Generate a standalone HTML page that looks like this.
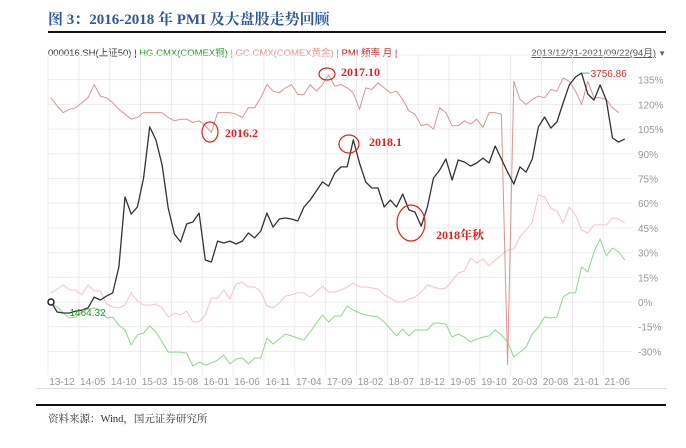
<!DOCTYPE html>
<html><head><meta charset="utf-8"><style>
body{margin:0;background:#fff;width:686px;height:443px;overflow:hidden;font-family:"Liberation Sans","Noto Sans CJK SC",sans-serif}
</style></head><body>
<svg width="686" height="443" viewBox="0 0 686 443" xmlns="http://www.w3.org/2000/svg">
<text x="48" y="24" font-family="'Liberation Serif','Noto Serif CJK SC',serif" font-weight="bold" font-size="15" fill="#2f5897">图 3：2016-2018 年 PMI 及大盘股走势回顾</text>
<rect x="48" y="31" width="618" height="2" fill="#111"/>
<g font-size="9.5">
<text x="48" y="56"><tspan fill="#333">000016.SH(上证50) | </tspan><tspan fill="#2a9a2a">HG.CMX(COMEX铜)</tspan><tspan fill="#999"> | </tspan><tspan fill="#e89090">GC.CMX(COMEX黄金)</tspan><tspan fill="#999"> | </tspan><tspan fill="#c02020">PMI 频率 月 |</tspan></text>
<text x="656" y="56" text-anchor="end" fill="#555" text-decoration="underline">2013/12/31-2021/09/22(94月)</text>
<text x="666" y="56" text-anchor="end" fill="#666" font-size="8">▼</text>
</g>
<g id="grid"></g>
<g id="series"></g>
<g id="annot" font-family="'Liberation Serif','Noto Serif CJK SC',serif" font-weight="bold" font-size="12" fill="#e02020">
<ellipse cx="210" cy="132" rx="8" ry="10" fill="none" stroke="#e02020" stroke-width="1.2"/>
<text x="225" y="137">2016.2</text>
<ellipse cx="327" cy="74" rx="8" ry="6" fill="none" stroke="#e02020" stroke-width="1.2"/>
<text x="341" y="76">2017.10</text>
<ellipse cx="349" cy="144" rx="10" ry="9" fill="none" stroke="#e02020" stroke-width="1.2"/>
<text x="369" y="146">2018.1</text>
<ellipse cx="411" cy="223" rx="14" ry="18" fill="none" stroke="#e02020" stroke-width="1.2"/>
<text x="436" y="239">2018年秋</text>
</g>
<rect x="36" y="404" width="630" height="2" fill="#111"/>
<text x="48" y="422" font-family="'Liberation Serif','Noto Serif CJK SC',serif" font-size="10.5" fill="#333">资料来源：Wind，国元证券研究所</text>
</svg>
<script>
const months = ["13-12","14-05","14-10","15-03","15-08","16-01","16-06","16-11","17-04","17-09","18-02","18-07","18-12","19-05","19-10","20-03","20-08","21-01","21-06"];
const yTicks = [135,120,105,90,75,60,45,30,15,0,-15,-30];
const sse50 = [0,-6.1,-6.7,-6.7,-5.5,-4.9,-3.6,3.0,1.2,3.6,5.5,21.3,63.8,53.4,57.7,75.3,106.3,98.4,83.2,57.1,41.3,36.4,47.4,48.6,54.0,25.5,24.3,37.0,35.8,37.0,35.2,37.0,41.9,38.9,43.1,54.0,45.5,50.4,51.0,50.4,49.2,57.7,61.9,67.4,72.9,70.4,78.3,82.0,82.0,98.4,84.4,72.9,69.2,69.2,57.7,61.9,57.7,65.6,55.9,54.6,46.1,57.7,75.3,80.1,86.8,74.1,86.2,85.0,82.6,84.4,87.4,84.4,94.7,86.8,78.9,71.6,82.0,78.9,86.8,106.3,112.3,105.6,109.3,120.8,131.8,136.6,139.0,126.3,122.6,131.8,122.6,99.6,97.1,99.0];
const copper = [-0.6,-3,-6.7,-9.7,-9.1,-6.1,-4.3,-3.6,-4.9,-9.7,-9.1,-14,-17,-26.1,-20,-18.8,-14.6,-18.2,-24.3,-30.4,-30.4,-30.4,-31,-38.9,-36.4,-38.3,-37,-35.2,-32.2,-37.6,-34.6,-34,-37.6,-34,-34,-21.9,-25.5,-22.5,-19.4,-20.6,-21.9,-23.1,-18.2,-12.8,-7.9,-12.1,-8.5,-8.5,-2.4,-4.9,-6.7,-7.9,-8.5,-9.1,-12.1,-16.4,-20.6,-16.4,-20.6,-17,-17,-17,-12.8,-12.8,-13.4,-21.3,-19.4,-21.3,-24.3,-22.5,-21.3,-20.6,-17,-20,-24.3,-33.4,-30.4,-27.3,-19.4,-15.2,-9.1,-9.7,-9.1,3,5.5,5.5,21.3,18.2,30.4,38.3,27.9,32.8,30.4,25.5];
const gold = [5.5,7.9,10.3,7.3,7.3,4.3,10.3,6.7,6.7,-1.2,-3,-3.6,-1.8,5.5,0.6,-1.8,-1.8,-1.2,-3.6,-9.1,-6.7,-7.9,-5.5,-12.1,-12.1,-7.9,2.4,2.4,7.3,1.8,10.9,12.1,9.1,9.1,6.1,-2.4,-3.6,-0.6,3.6,4.3,5.5,5.5,3,6.1,9.7,6.1,6.1,7.3,9.1,11.5,9.1,9.1,8.5,7.9,4.3,2.4,0,0,1.8,3,6.1,10.3,9.1,7.9,8.5,12.8,17.6,18.8,26.7,23.7,26.1,21.9,25.5,28.5,31.6,32.2,39.5,43.7,48.6,65,63.8,57.1,55.3,48,57.7,52.8,43.7,41.9,46.8,46.8,46.8,51,50.4,48];
const pmi = [124,119,115,117,118,121,124,132,125,124,121,117,114,111,112,115,115,115,115,112,110,111,111,109,110,107,103,115,115,115,114,112,118,118,124,132,128,127,130,132,126,126,132,128,132,138,131,132,130,127,117,130,129,133,130,127,128,123,116,114,107,108,105,118,115,107,107,110,108,111,106,115,115,114,-38,134,123,120,123,125,124,129,128,136,134,128,120,134,124,124,123,118,115];

const NS="http://www.w3.org/2000/svg";
const X0=51, DX=6.17, Y0=302, KY=1.647;
function xs(i){return X0+i*DX;}
function ys(v){return Y0-v*KY;}
function mk(tag,attrs,parent){const e=document.createElementNS(NS,tag);for(const k in attrs)e.setAttribute(k,attrs[k]);parent.appendChild(e);return e;}
const grid=document.getElementById('grid');
const series=document.getElementById('series');
[150].concat(yTicks).forEach(v=>{
  const l=mk('line',{x1:48,x2:632,y1:ys(v),y2:ys(v),stroke:'#ececec','stroke-width':1},grid);
  
  
});
yTicks.forEach(v=>{
  const t=mk('text',{x:638,y:ys(v)+4,'font-size':10,fill:'#999'},grid);
  t.textContent=v+'%';
  
  
});
months.forEach((m,k)=>{
  const x=xs(k*5);
  const l=mk('line',{x1:x-3,x2:x-3,y1:55,y2:375,stroke:'#ececec','stroke-width':1},grid);
  
  
  const t=mk('text',{x:x+11,y:385,'font-size':10,fill:'#999','text-anchor':'middle'},grid);
  t.textContent=m;
  
  
});
const ax=mk('line',{x1:36,x2:666,y1:388.5,y2:388.5,stroke:'#ddd','stroke-width':1},grid);


function poly(arr,color,w,name){
  const pts=arr.map((v,i)=>xs(i).toFixed(1)+','+ys(v).toFixed(1)).join(' ');
  const p=mk('polyline',{points:pts,fill:'none',stroke:color,'stroke-width':w,'stroke-linejoin':'round'},series);
  
  
}
poly(gold,'#f6c4c4',1,'gold-line');
poly(copper,'#8ed88e',1,'copper-line');
poly(pmi,'#dc9494',1,'pmi-line');
poly(sse50,'#333',1.3,'sse50-line');
const st=mk('circle',{cx:xs(0),cy:ys(sse50[0]),r:3,fill:'#fff',stroke:'#222','stroke-width':1.5},series);


const lo=mk('text',{x:xs(3),y:ys(sse50[0])+14,'font-size':10,fill:'#2a9a2a'},series);
lo.textContent='1464.32';


let mi=0;sse50.forEach((v,i)=>{if(v>sse50[mi])mi=i;});
const hl=mk('line',{x1:xs(mi),x2:xs(mi)+8,y1:ys(sse50[mi]),y2:ys(sse50[mi]),stroke:'#4aa3d8','stroke-width':1},series);


const hi=mk('text',{x:xs(mi)+9,y:ys(sse50[mi])+4,'font-size':10,fill:'#d03030'},series);
hi.textContent='3756.86';


</script>
</body></html>
